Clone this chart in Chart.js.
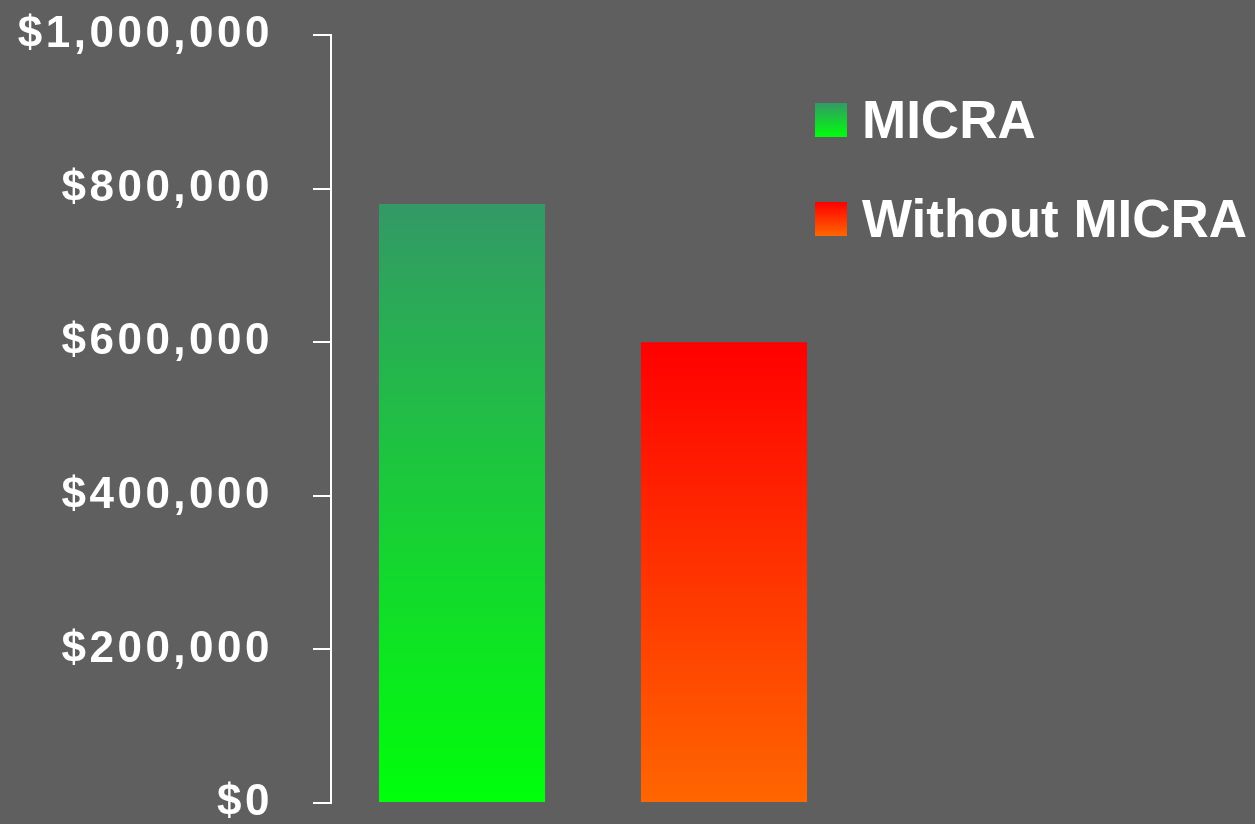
<!DOCTYPE html>
<html>
<head>
<meta charset="utf-8">
<script src="https://cdn.jsdelivr.net/npm/chart.js@4.4.1/dist/chart.umd.min.js"></script>
<style>
  html, body { margin: 0; padding: 0; background: #5f5f5f; }
  .chart-container { width: 1255px; height: 824px; position: relative; }
</style>
</head>
<body>
<div class="chart-container">
    <canvas id="micraChart"></canvas>
</div>
<script>
// data
const categories = ['MICRA', 'Without MICRA'];
const micraValues = [780000, null];
const withoutMicraValues = [null, 600000];
const yTicks = [0, 200000, 400000, 600000, 800000, 1000000];

// gradient stops (top, bottom)
const greenStops = ['#339966', '#00ff0a'];
const redStops = ['#ff0000', '#ff6600'];

const FONT = '"Liberation Sans", Arial, sans-serif';

// fill a bar with a vertical gradient running from its top to the base line
const barGradient = (stops) => (context) => {
    const chart = context.chart;
    const yScale = chart.scales.y;
    if (!chart.chartArea || !yScale || context.parsed == null || context.parsed.y == null) {
        return stops[0];
    }
    const top = yScale.getPixelForValue(context.parsed.y);
    const bottom = yScale.getPixelForValue(0);
    const g = chart.ctx.createLinearGradient(0, top, 0, bottom);
    g.addColorStop(0, stops[0]);
    g.addColorStop(1, stops[1]);
    return g;
};

// the axis labels in the original are drawn wide, so space the letters out a bit
const wideAxisText = {
    id: 'wideAxisText',
    beforeDraw(chart) {
        chart.ctx.letterSpacing = '3.5px';
    },
    beforeDatasetsDraw(chart) {
        chart.ctx.letterSpacing = '0px';
    }
};

// legend drawn inside the plot, at the right
const sideLegend = {
    id: 'sideLegend',
    afterDraw(chart) {
        const ctx = chart.ctx;
        const boxX = 815, boxW = 32, boxH = 34, textX = 862;
        const rows = [103, 202];
        const stops = [greenStops, redStops];
        ctx.save();
        ctx.letterSpacing = '0px';
        chart.data.datasets.forEach((ds, i) => {
            const y = rows[i];
            const g = ctx.createLinearGradient(0, y, 0, y + boxH);
            g.addColorStop(0, stops[i][0]);
            g.addColorStop(1, stops[i][1]);
            ctx.fillStyle = g;
            ctx.fillRect(boxX, y, boxW, boxH);
            ctx.fillStyle = '#ffffff';
            ctx.font = 'bold 53px ' + FONT;
            ctx.textBaseline = 'alphabetic';
            ctx.textAlign = 'left';
            ctx.fillText(ds.label, textX, y + 35);
        });
        ctx.restore();
    }
};

const ctx = document.getElementById('micraChart').getContext('2d');
new Chart(ctx, {
    type: 'bar',
    data: {
        labels: categories,
        datasets: [
            {
                label: 'MICRA',
                data: micraValues,
                backgroundColor: barGradient(greenStops)
            },
            {
                label: 'Without MICRA',
                data: withoutMicraValues,
                backgroundColor: barGradient(redStops)
            }
        ]
    },
    options: {
        responsive: true,
        maintainAspectRatio: false,
        animation: false,
        categoryPercentage: 1,
        barPercentage: 0.634,
        layout: {
            padding: { top: 35, bottom: 21, right: 400, left: 0 }
        },
        plugins: {
            legend: { display: false },
            tooltip: { enabled: false }
        },
        scales: {
            x: {
                display: false,
                stacked: true
            },
            y: {
                stacked: true,
                min: 0,
                max: 1000000,
                afterBuildTicks: (scale) => {
                    scale.ticks = yTicks.map(v => ({ value: v }));
                },
                afterFit: (scale) => {
                    scale.width = 331;
                    scale.paddingTop = 0;
                    scale.paddingBottom = 0;
                },
                border: { display: true, color: '#ffffff', width: 2 },
                grid: {
                    drawOnChartArea: false,
                    drawTicks: true,
                    tickLength: 18,
                    color: '#ffffff',
                    lineWidth: 2
                },
                ticks: {
                    color: '#ffffff',
                    padding: 40,
                    font: { family: FONT, size: 44, weight: 'bold' },
                    callback: (v) => '$' + Number(v).toLocaleString('en-US')
                }
            }
        }
    },
    plugins: [wideAxisText, sideLegend]
});
</script>
</body>
</html>
